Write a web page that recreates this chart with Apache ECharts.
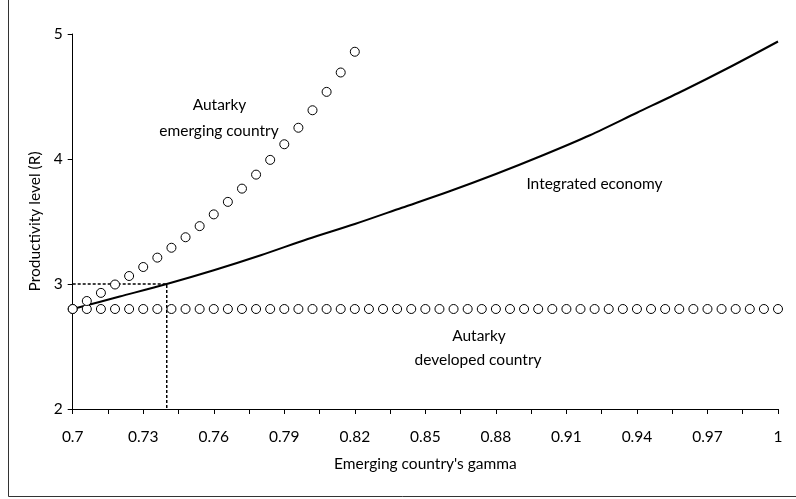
<!DOCTYPE html>
<html>
<head>
<meta charset="utf-8">
<script src="https://cdn.jsdelivr.net/npm/echarts@6/dist/echarts.min.js"></script>
<style>
html,body{margin:0;padding:0;background:#fff;}
#chart{width:796px;height:499px;}
</style>
</head>
<body>
<div id="chart"></div>
<script>
// Developed country autarky (constant)
const devGamma = [];
for (let i = 0; i <= 50; i++) devGamma.push(+(0.7 + i * 0.006).toFixed(3));
const devValues = devGamma.map(() => 2.8);

// Emerging country autarky
const emGamma = [0.700,0.706,0.712,0.718,0.724,0.730,0.736,0.742,0.748,0.754,0.760,0.766,0.772,0.778,0.784,0.790,0.796,0.802,0.808,0.814,0.820];
const emValues = [2.80,2.864,2.929,2.996,3.064,3.136,3.211,3.290,3.374,3.463,3.557,3.657,3.763,3.875,3.993,4.118,4.250,4.390,4.537,4.692,4.858];

// Integrated economy
const intGamma = [0.70,0.72,0.74,0.76,0.78,0.80,0.82,0.84,0.86,0.88,0.90,0.92,0.94,0.96,0.98,1.00];
const intValues = [2.80,2.90,3.00,3.11,3.23,3.36,3.48,3.61,3.74,3.88,4.03,4.19,4.37,4.55,4.74,4.94];

// Reference dashed guide (gamma 0.74, R 3)
const guideGamma = [0.70, 0.74, 0.74];
const guideValues = [3, 3, 2];

const xTickLabels = ['0.7','0.73','0.76','0.79','0.82','0.85','0.88','0.91','0.94','0.97','1'];
const yTickLabels = ['2','3','4','5'];

const zip = (a, b) => a.map((v, i) => [v, b[i]]);
const FONT = 'Lato';
const FS = 15.5;

const chart = echarts.init(document.getElementById('chart'), null, {renderer: 'canvas'});
const txt = (x, y, t) => ({type: 'text', x: x, y: y, silent: true,
  style: {text: t, fontFamily: FONT, fontSize: FS, fill: '#000', align: 'center', verticalAlign: 'middle'}});
chart.setOption({
  animation: false,
  backgroundColor: '#fff',
  textStyle: {fontFamily: FONT},
  grid: {left: 72.7, right: 18, top: 34, bottom: 90},
  xAxis: {
    type: 'value', min: 0.7, max: 1.0, interval: 0.015,
    name: "Emerging country's gamma", nameLocation: 'middle', nameGap: 47,
    nameTextStyle: {fontFamily: FONT, fontSize: FS, color: '#000'},
    axisLine: {lineStyle: {color: '#000', width: 1}},
    axisTick: {show: true, length: 5, lineStyle: {color: '#000'}},
    splitLine: {show: false},
    axisLabel: {
      fontFamily: FONT, fontSize: FS, color: '#000', margin: 20,
      formatter: v => {
        const k = Math.round((v - 0.7) / 0.015);
        return k % 2 === 0 ? xTickLabels[k / 2] : '';
      }
    }
  },
  yAxis: {
    type: 'value', min: 2, max: 5, interval: 1,
    name: 'Productivity level (R)', nameLocation: 'middle', nameGap: 26,
    nameTextStyle: {fontFamily: FONT, fontSize: FS, color: '#000'},
    axisLine: {show: true, lineStyle: {color: '#000', width: 1}},
    axisTick: {show: true, length: 5, lineStyle: {color: '#000'}},
    splitLine: {show: false},
    axisLabel: {fontFamily: FONT, fontSize: FS, color: '#000', margin: 10,
      formatter: v => yTickLabels[Math.round(v - 2)]}
  },
  series: [
    {
      type: 'line', data: zip(guideGamma, guideValues), symbol: 'none',
      lineStyle: {color: '#000', width: 1.5, type: [3, 2]}, z: 1
    },
    {
      type: 'line', data: zip(intGamma, intValues), symbol: 'none', smooth: 0.3,
      lineStyle: {color: '#000', width: 2}, z: 2
    },
    {
      type: 'line', data: zip(devGamma, devValues), symbol: 'circle', symbolSize: 9,
      showSymbol: true,
      lineStyle: {width: 0, opacity: 0},
      itemStyle: {color: '#fff', borderColor: '#000', borderWidth: 1}, z: 3
    },
    {
      type: 'line', data: zip(emGamma, emValues), symbol: 'circle', symbolSize: 9,
      showSymbol: true,
      lineStyle: {width: 0, opacity: 0},
      itemStyle: {color: '#fff', borderColor: '#000', borderWidth: 1}, z: 4
    }
  ],
  graphic: [
    {type: 'rect', shape: {x: 8.5, y: -5, width: 800, height: 501.5},
     style: {fill: 'none', stroke: '#333', lineWidth: 1}, silent: true},
    txt(219.5, 105, 'Autarky'),
    txt(219, 131, 'emerging country'),
    txt(594.5, 184, 'Integrated economy'),
    txt(479, 336, 'Autarky'),
    txt(478, 360, 'developed country')
  ]
});
</script>
</body>
</html>
